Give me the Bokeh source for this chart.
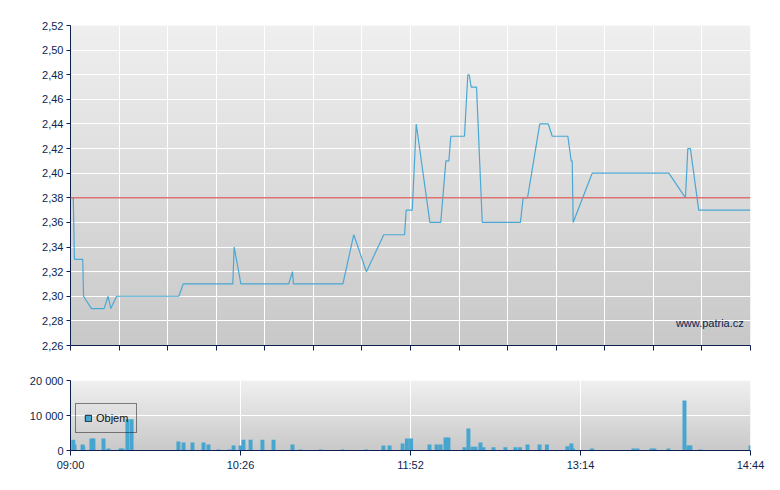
import numpy as np
from bokeh.plotting import figure
from bokeh.models import (Range1d, FixedTicker, Legend, LegendItem, Label, Span,
                          ColumnDataSource, CustomJSTickFormatter)
from bokeh.layouts import column
from bokeh.embed import file_html
from bokeh.resources import INLINE

# ---------------- data ----------------
# minutes elapsed since 09:00 (session 09:00 - 14:44)
price_min = [0.0, 1.4, 2.0, 6.2, 6.6, 10.6, 17.0, 19.0, 20.4, 23.3,
             54.8, 57.0, 82.1, 82.8, 86.2, 110.4, 112.3, 112.8, 137.8, 143.3,
             149.7, 158.5, 169.0, 169.8, 172.9, 174.9, 181.8, 187.3, 189.9, 191.4,
             192.4, 199.3, 201.0, 201.7, 202.7, 205.4, 208.3, 227.6, 229.0, 231.2,
             237.4, 241.7, 243.7, 251.6, 253.3, 253.8, 254.3, 263.9, 302.7, 311.1,
             312.3, 313.6, 317.8, 344.0]
price = [2.38, 2.38, 2.33, 2.33, 2.30, 2.29, 2.29, 2.30, 2.29, 2.30,
         2.30, 2.31, 2.31, 2.34, 2.31, 2.31, 2.32, 2.31, 2.31, 2.35,
         2.32, 2.35, 2.35, 2.37, 2.37, 2.44, 2.36, 2.36, 2.41, 2.41,
         2.43, 2.43, 2.48, 2.48, 2.47, 2.47, 2.36, 2.36, 2.38, 2.38,
         2.44, 2.44, 2.43, 2.43, 2.41, 2.41, 2.36, 2.40, 2.40, 2.38,
         2.42, 2.42, 2.37, 2.37]
prev_close = 2.38

vol_min = [1.4, 2.0, 6.1, 6.4, 10.6, 11.6, 16.7, 19.2, 25.3, 26.3,
           28.8, 30.9, 54.6, 57.2, 61.7, 67.3, 69.8, 74.9, 80.4, 82.5,
           86.0, 87.5, 91.1, 97.1, 102.7, 112.3, 116.4, 126.5, 137.6, 149.7,
           158.3, 161.4, 168.0, 170.2, 172.3, 181.6, 185.2, 187.2, 189.7, 191.2,
           199.3, 201.3, 203.4, 204.9, 207.4, 208.9, 214.0, 220.0, 225.1, 227.4,
           231.2, 237.3, 241.0, 251.4, 253.4, 254.2, 263.8, 284.8, 286.8, 293.9,
           295.4, 302.5, 310.6, 312.6, 313.6, 318.7, 344.0]
vol = [3100, 1700, 1700, 1200, 3400, 3400, 3400, 600, 600, 600,
       8900, 8900, 2600, 2300, 2300, 2300, 1700, 300, 300, 1400,
       1400, 3100, 3100, 3100, 3100, 1700, 300, 300, 300, 300,
       1400, 1400, 2000, 3400, 3400, 1700, 1700, 1700, 3700, 3700,
       900, 6300, 1100, 1100, 2300, 900, 900, 900, 900, 900,
       1700, 1700, 1700, 1200, 2000, 600, 600, 600, 600, 600,
       600, 600, 14300, 1400, 1400, 300, 1400]

session_len = 344
price_ticks = [round(2.26 + 0.02 * i, 2) for i in range(14)]
top_xticks = [session_len * i / 14 for i in range(15)]
vol_ticks = [0, 10000, 20000]
time_ticks = [0, 86, 172, 258, 344]
time_labels = ["09:00", "10:26", "11:52", "13:14", "14:44"]

# ---------------- style ----------------
NAVY = "#0c1f4f"
BLUE = "#46a6d0"
RED = "#dc7272"
FONT = "Liberation Sans"
FS = "11px"


def gradient(top, bottom, n=256):
    img = np.empty((n, 1), dtype=np.uint32)
    view = img.view(dtype=np.uint8).reshape((n, 1, 4))
    for i in range(n):
        f = i / (n - 1)  # 0 = bottom row
        c = [int(round(bottom[k] + (top[k] - bottom[k]) * f)) for k in range(3)]
        view[i, 0, 0:3] = c
        view[i, 0, 3] = 255
    return img


def style_axis(ax, tick_out):
    ax.axis_line_color = NAVY
    ax.axis_line_width = 1
    ax.major_tick_line_color = NAVY
    ax.major_tick_out = tick_out
    ax.major_tick_in = 0
    ax.minor_tick_line_color = None
    ax.major_label_text_font = FONT
    ax.major_label_text_font_size = FS
    ax.major_label_text_color = NAVY
    ax.major_label_standoff = 3


# ---------------- price chart ----------------
p = figure(width=772, height=355, x_range=Range1d(0, session_len),
           y_range=Range1d(2.26, 2.52), output_backend="svg",
           toolbar_location=None, min_border_left=70, min_border_right=22,
           min_border_top=25, min_border_bottom=10)
p.outline_line_color = None
p.image_rgba(image=[gradient((239, 239, 239), (200, 200, 200))], x=0, y=2.26,
             dw=session_len, dh=0.26, level="image")

p.xaxis.ticker = FixedTicker(ticks=top_xticks)
p.xaxis.formatter = CustomJSTickFormatter(code="return '';")
p.yaxis.ticker = FixedTicker(ticks=price_ticks)
p.yaxis.formatter = CustomJSTickFormatter(code="return tick.toFixed(2).replace('.', ',');")
style_axis(p.xaxis[0], 5)
style_axis(p.yaxis[0], 4)
p.xgrid.ticker = FixedTicker(ticks=top_xticks)
p.ygrid.ticker = FixedTicker(ticks=price_ticks)
for g in (p.xgrid[0], p.ygrid[0]):
    g.grid_line_color = "white"
    g.grid_line_width = 1

p.add_layout(Span(location=prev_close, dimension="width", line_color=RED,
                  line_width=1.5))
p.line(price_min, price, line_color="#4aa8d4", line_width=1.2)

p.add_layout(Label(x=340.6, y=2.278, text="www.patria.cz", text_align="right",
                   text_baseline="middle", text_font=FONT, text_font_size=FS,
                   text_color=NAVY))

# ---------------- volume chart ----------------
b = figure(width=772, height=120, x_range=Range1d(0, session_len),
           y_range=Range1d(0, 20000), output_backend="svg",
           toolbar_location=None, min_border_left=70, min_border_right=22,
           min_border_top=25, min_border_bottom=25)
b.outline_line_color = None
b.image_rgba(image=[gradient((240, 240, 240), (201, 201, 201))], x=0, y=0,
             dw=session_len, dh=20000, level="image")

b.xaxis.ticker = FixedTicker(ticks=time_ticks)
b.xaxis.major_label_overrides = {t: l for t, l in zip(time_ticks, time_labels)}
b.yaxis.ticker = FixedTicker(ticks=vol_ticks)
b.yaxis.formatter = CustomJSTickFormatter(
    code="return Math.round(tick).toString().replace(/\\B(?=(\\d{3})+(?!\\d))/g, ' ');")
style_axis(b.xaxis[0], 5)
style_axis(b.yaxis[0], 4)
b.xgrid.ticker = FixedTicker(ticks=time_ticks)
b.ygrid.ticker = FixedTicker(ticks=vol_ticks)
for g in (b.xgrid[0], b.ygrid[0]):
    g.grid_line_color = "white"
    g.grid_line_width = 1

b.vbar(x=vol_min, top=vol, width=2, fill_color=BLUE, line_color=None)
# legend swatch renderer (its single bar lies outside the visible range)
dummy = b.vbar(x="x", top="top", width=2,
               source=ColumnDataSource(data=dict(x=[-50], top=[0])),
               fill_color=BLUE, line_color="#1b2433", line_width=1)
legend = Legend(items=[LegendItem(label="Objem", renderers=[dummy])],
                location=(5, 17), margin=0, padding=8, spacing=0,
                glyph_width=8, glyph_height=8, label_standoff=4,
                label_text_font=FONT, label_text_font_size=FS,
                label_text_color="#111111", label_height=12,
                border_line_color="#111111", border_line_width=1,
                background_fill_alpha=0)
b.add_layout(legend)

layout = column(p, b)
open("out.html", "w").write(file_html(layout, INLINE))
